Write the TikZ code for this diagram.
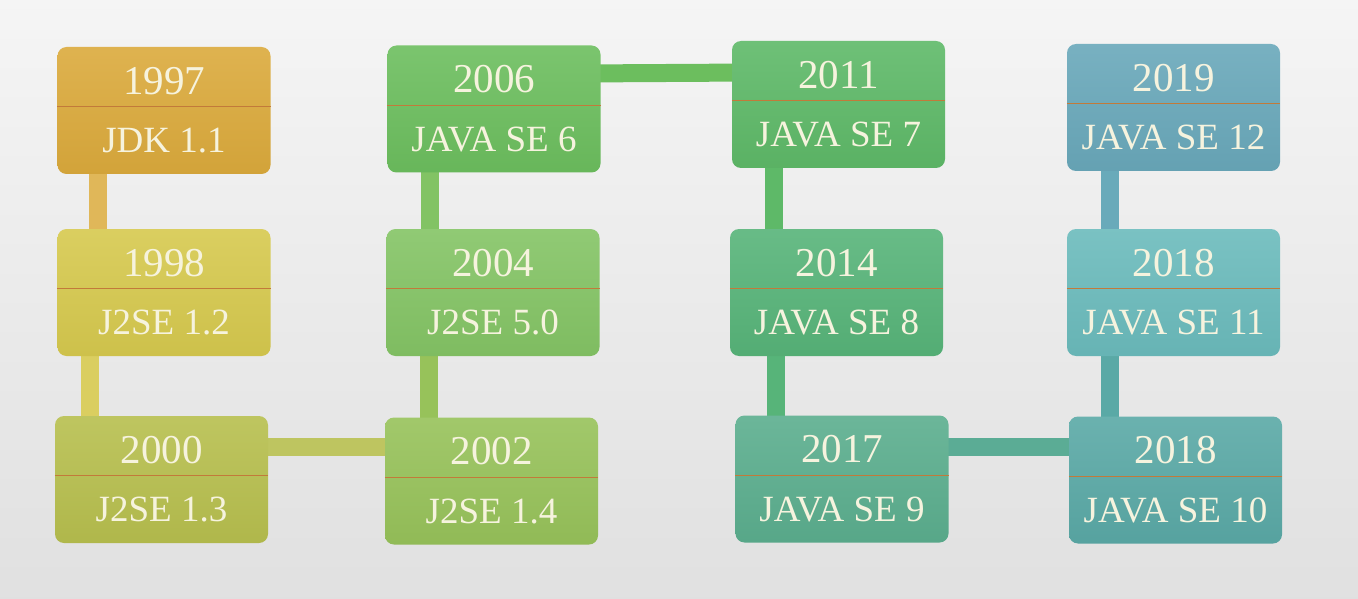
\documentclass[tikz,border=0pt]{standalone}
\usepackage{fontspec}
\setmainfont{Liberation Serif}
\usetikzlibrary{backgrounds,calc}
\pgfdeclarelayer{bgfill}
\pgfsetlayers{bgfill,background,main}
\definecolor{txt}{HTML}{F6F3DE}
\definecolor{divc}{HTML}{C27A3A}
\definecolor{c1997}{HTML}{DBAA3C}
\definecolor{c1998}{HTML}{D6C94E}
\definecolor{c2000}{HTML}{B7BF4E}
\definecolor{c2002}{HTML}{97C25A}
\definecolor{c2004}{HTML}{84C465}
\definecolor{c2006}{HTML}{6CBE5E}
\definecolor{c2011}{HTML}{5EB968}
\definecolor{c2014}{HTML}{57B479}
\definecolor{c2017}{HTML}{5BAE8E}
\definecolor{c2018a}{HTML}{5AA9A6}
\definecolor{c2018b}{HTML}{6BBBBC}
\definecolor{c2019}{HTML}{69A8BA}
\tikzset{
  verbox/.style={rectangle, rounded corners=9pt, minimum width=213pt, minimum height=127pt,
    inner sep=0pt, top color=#1!90!white, bottom color=#1!96!black, draw=none},
  divider/.style={draw=divc, line width=1.3pt},
  yeartxt/.style={text=txt, inner sep=0pt, font=\fontsize{41}{42}\selectfont},
  nametxt/.style={text=txt, inner sep=0pt, font=\fontsize{37}{39}\selectfont},
  conn/.style={line width=18pt, draw=#1}
}
\newcommand{\jbox}[6]{%
  \node[verbox=#4] (#1) at (#2,#3) {};
  \draw[divider] ($(#1.north west)+(0,60)$) -- ($(#1.north east)+(0,60)$);
  \node[yeartxt] (#1y) at ($(#1.north)+(0,34)$) {#5};
  \node[nametxt] (#1n) at ($(#1.north)+(0,94)$) {#6};
}
\begin{document}
\begin{tikzpicture}[x=1pt,y=-1pt]
\begin{pgfonlayer}{bgfill}
  \shade[top color=white!96!black, bottom color=white!88!black] (0,0) rectangle (1358,599);
\end{pgfonlayer}
\useasboundingbox (0,0) rectangle (1358,599);
\jbox{b1997}{164}{110.5}{c1997}{1997}{JDK 1.1}
\jbox{b1998}{164}{292.5}{c1998}{1998}{J2SE 1.2}
\jbox{b2000}{161.5}{479.5}{c2000}{2000}{J2SE 1.3}
\jbox{b2002}{491.5}{481}{c2002}{2002}{J2SE 1.4}
\jbox{b2004}{493}{292.5}{c2004}{2004}{J2SE 5.0}
\jbox{b2006}{494}{109}{c2006}{2006}{JAVA SE 6}
\jbox{b2011}{838.5}{104.5}{c2011}{2011}{JAVA SE 7}
\jbox{b2014}{836.5}{292.5}{c2014}{2014}{JAVA SE 8}
\jbox{b2017}{842}{479}{c2017}{2017}{JAVA SE 9}
\jbox{b2018a}{1175.5}{480}{c2018a}{2018}{JAVA SE 10}
\jbox{b2018b}{1173.5}{292.5}{c2018b}{2018}{JAVA SE 11}
\jbox{b2019}{1173.5}{107.5}{c2019}{2019}{JAVA SE 12}
\begin{pgfonlayer}{background}
  \draw[conn=c1997!85!white] ([xshift=-66pt]b1997.center) -- ([xshift=-66pt]b1998.center);
  \draw[conn=c1998!90!white] ([xshift=-74pt]b1998.center) -- ([xshift=-71.5pt]b2000.center);
  \draw[conn=c2000!90!white] ([yshift=32.5pt]b2000.center) -- ([yshift=34pt]b2002.center);
  \draw[conn=c2002] ([xshift=-62.5pt]b2002.center) -- ([xshift=-64pt]b2004.center);
  \draw[conn=c2004!90!c2006] ([xshift=-63pt]b2004.center) -- ([xshift=-64pt]b2006.center);
  \draw[conn=c2006] ([yshift=35pt]b2006.center) -- ([yshift=32.5pt]b2011.center);
  \draw[conn=c2011] ([xshift=-64.5pt]b2011.center) -- ([xshift=-62.5pt]b2014.center);
  \draw[conn=c2014] ([xshift=-60.5pt]b2014.center) -- ([xshift=-66pt]b2017.center);
  \draw[conn=c2017!70!c2018a] ([yshift=32pt]b2017.center) -- ([yshift=33pt]b2018a.center);
  \draw[conn=c2018a] ([xshift=-65.5pt]b2018a.center) -- ([xshift=-63.5pt]b2018b.center);
  \draw[conn=c2019!90!c2018b] ([xshift=-63.5pt]b2018b.center) -- ([xshift=-63.5pt]b2019.center);
\end{pgfonlayer}
\end{tikzpicture}
\end{document}
